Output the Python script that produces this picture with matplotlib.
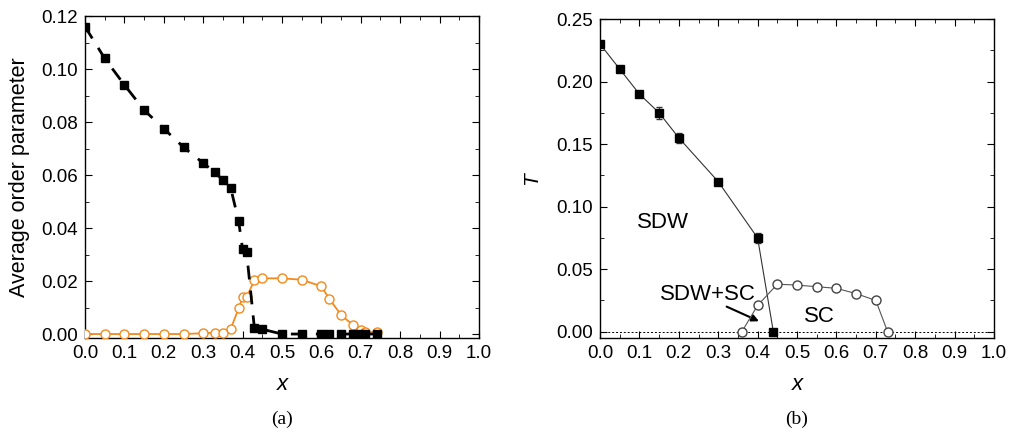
import matplotlib.pyplot as plt

# panel (a): average order parameter vs doping x
x_a = [0.0, 0.05, 0.10, 0.15, 0.20, 0.25, 0.30, 0.33, 0.35, 0.37, 0.39, 0.40,
       0.41, 0.43, 0.45, 0.50, 0.55, 0.60, 0.62, 0.65, 0.68, 0.70, 0.71, 0.74]
sdw_a = [0.116, 0.104, 0.094, 0.0845, 0.0775, 0.0705, 0.0645, 0.061, 0.058, 0.055,
         0.0425, 0.032, 0.031, 0.0022, 0.0018, 0.0, 0.0, 0.0, 0.0, 0.0, 0.0, 0.0,
         0.0, 0.0]
sc_a = [0.0, 0.0, 0.0, 0.0, 0.0, 0.0, 0.0003, 0.0005, 0.0003, 0.002, 0.0097, 0.0138,
        0.0139, 0.0203, 0.021, 0.021, 0.0205, 0.018, 0.0133, 0.0072, 0.0034, 0.0014,
        0.0008, 0.0007]

# panel (b): phase diagram
x_sdw = [0.0, 0.05, 0.10, 0.15, 0.20, 0.30, 0.40, 0.44]
t_sdw = [0.23, 0.21, 0.19, 0.175, 0.155, 0.12, 0.075, 0.0]
err_sdw = [0.002, 0.001, 0.001, 0.005, 0.004, 0.001, 0.004, 0.0]
x_sc = [0.36, 0.40, 0.45, 0.50, 0.55, 0.60, 0.65, 0.70, 0.73]
t_sc = [0.0, 0.021, 0.038, 0.0373, 0.036, 0.0347, 0.0305, 0.025, 0.0]
err_sc = [0.0, 0.0, 0.0, 0.001, 0.0, 0.001, 0.001, 0.0, 0.0]

orange = '#F28A1E'
plt.rcParams['font.family'] = ['Liberation Sans', 'DejaVu Sans']

fig = plt.figure(figsize=(10.11, 4.38), dpi=100)
ax1 = fig.add_axes([85/1011, 1-338/438, 394/1011, 322/438])
ax2 = fig.add_axes([600/1011, 1-338/438, 394/1011, 319/438])


def style(ax):
    ax.set_xlim(0, 1.0)
    ax.set_xticks([i/10 for i in range(11)])
    ax.set_xticks([i/20 for i in range(21)], minor=True)
    ax.tick_params(which='both', direction='in', top=True, right=True,
                   labelsize=13.5, pad=5)
    ax.tick_params(which='major', length=5)
    ax.tick_params(which='minor', length=3)
    for s in ax.spines.values():
        s.set_linewidth(1.0)


# (a)
ax1.plot(x_a, sc_a, '-o', color=orange, lw=1.3, ms=6.5, mfc='white', mec=orange,
         mew=1.0, zorder=3)
ax1.plot(x_a, sdw_a, 's', color='black', ms=5.5, zorder=4)
ax1.plot(x_a, sdw_a, color='black', lw=2.0, dashes=(5, 4), zorder=4)
style(ax1)
ax1.set_ylim(-0.0015, 0.12)
ax1.set_yticks([0, 0.02, 0.04, 0.06, 0.08, 0.10, 0.12])
ax1.set_yticks([i*0.01 for i in range(13)], minor=True)
ax1.yaxis.set_major_formatter(plt.FormatStrFormatter('%.2f'))
ax1.set_ylabel('Average order parameter', fontsize=15.5, labelpad=8)

# (b)
ax2.axhline(0, color='black', lw=0.7, ls=(0, (2, 2)), zorder=1)
ax2.errorbar(x_sdw, t_sdw, yerr=err_sdw, fmt='-s', color='#333333', lw=0.8,
             ms=6, mfc='black', mec='black', capsize=2.5, elinewidth=0.8, zorder=3)
ax2.errorbar(x_sc, t_sc, yerr=err_sc, fmt='-o', color='#555555', lw=0.8,
             ms=6.5, mfc='white', mec='#444444', capsize=2, elinewidth=0.8, zorder=3)
style(ax2)
ax2.set_ylim(-0.005, 0.25)
ax2.set_yticks([0, 0.05, 0.10, 0.15, 0.20, 0.25])
ax2.set_yticks([i*0.025 for i in range(11)], minor=True)
ax2.yaxis.set_major_formatter(plt.FormatStrFormatter('%.2f'))
ax2.set_ylabel('T', fontsize=15, style='italic', labelpad=11)

ax2.text(0.16, 0.087, 'SDW', fontsize=16, ha='center', va='center')
ax2.text(0.275, 0.0296, 'SDW+SC', fontsize=16, ha='center', va='center')
ax2.text(0.557, 0.0122, 'SC', fontsize=16, ha='center', va='center')
ax2.annotate('', xy=(0.41, 0.0075), xytext=(0.315, 0.021),
             arrowprops=dict(arrowstyle='-|>', color='black', lw=1.5,
                             mutation_scale=10))

# axis titles and panel tags
fig.text(282/1011, 1-385/438, 'x', fontsize=16, style='italic', ha='center', va='center')
fig.text(797/1011, 1-385/438, 'x', fontsize=16, style='italic', ha='center', va='center')
fig.text(282/1011, 1-419/438, '(a)', fontsize=14, family='Liberation Serif',
         ha='center', va='center')
fig.text(797/1011, 1-419/438, '(b)', fontsize=14, family='Liberation Serif',
         ha='center', va='center')

plt.savefig('out.png', dpi=100)
